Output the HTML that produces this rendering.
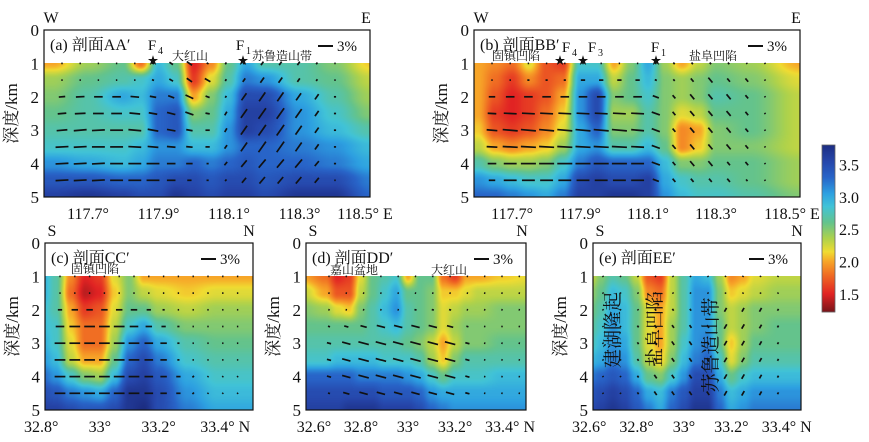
<!DOCTYPE html>
<html><head><meta charset="utf-8">
<style>
html,body{margin:0;padding:0;background:#fff;}
#wrap{position:relative;width:869px;height:442px;overflow:hidden;background:#fff;}
canvas{position:absolute;}
svg{position:absolute;left:0;top:0;}
text{font-family:"Liberation Serif","Noto Serif CJK SC",serif;fill:#111;}
</style></head>
<body>
<div id="wrap">
<svg id="svg" width="869" height="442"></svg>
</div>
<script>
// ---------- DATA ----------
const depthRows = [1,1.5,2,2.5,3,3.5,4,4.5,5];
const barDepths = [1,1.5,2,2.5,3,3.5,4,4.5];

const aCols = [117.6,117.7,117.8,117.85,117.9,117.95,118.0,118.05,118.1,118.15,118.2,118.3,118.4,118.5];
const aVel = [
[2.0,2.4,2.6,1.8,2.9,2.6,1.5,1.9,2.6,3.0,2.7,2.7,2.5,2.1],
[2.4,2.6,2.7,2.8,3.0,2.8,1.6,2.2,2.7,3.2,3.1,2.7,2.6,2.3],
[2.5,2.7,3.0,2.9,3.2,3.2,2.0,2.5,2.9,3.5,3.5,3.0,2.7,2.4],
[2.6,2.7,2.8,2.8,3.3,3.4,2.5,2.6,3.0,3.6,3.6,3.1,2.8,2.5],
[2.7,2.7,2.7,2.7,3.3,3.4,2.7,2.7,3.1,3.6,3.5,3.1,2.9,2.7],
[2.8,2.8,2.8,2.9,3.1,3.1,2.9,2.9,3.1,3.3,3.3,3.2,3.1,2.9],
[3.1,3.0,2.9,3.0,3.2,3.2,3.3,3.2,3.3,3.4,3.3,3.3,3.2,3.0],
[3.4,3.4,3.3,3.3,3.4,3.5,3.5,3.4,3.5,3.5,3.4,3.5,3.5,3.2],
[3.6,3.7,3.6,3.5,3.5,3.7,3.6,3.5,3.6,3.6,3.5,3.7,3.7,3.3]];
const aBarLen = [
[0,0,0,0,0,0.5,1,1.5,0.5,0.5,0.5,1,1,1,0.5,0],
[0,0,0.3,0.3,0.3,0.5,1,1.5,1.5,0.5,1,1.5,1.5,1,0.5,0],
[1.5,2,2,2,2,1.5,1.5,2,1,0.5,2,2.5,2.5,2,1.5,0.5],
[2,2.5,2.5,2.5,2.5,2,2,2,1,1,2.5,3,3,2.5,1.5,0.5],
[2.5,3,3,3,3,2.5,2,1.5,1,1,2.5,3,3,2.5,1.5,0.5],
[3,3,3,3,3,2.5,2,1.5,1,1,2.5,3,3,2.5,1.5,0.5],
[3,3,3,3,3,3,2,1.5,0.5,1,2,2.5,2.5,2.5,1.5,0.5],
[3,3,3,3,3,3,2,1,0.5,0.5,1.5,2,2,2,1.5,0.3]];
const aBarAng = [
[0,0,0,0,0,-30,-35,-35,-30,60,55,55,55,55,55,0],
[0,0,0,0,0,-20,-30,-35,-30,60,55,55,55,55,55,0],
[5,3,0,0,-5,-10,-20,-25,-20,60,55,55,55,55,55,0],
[5,3,0,0,-5,-10,-15,-20,-10,60,55,55,55,55,55,0],
[5,5,3,0,-5,-10,-10,-10,0,60,55,55,55,55,55,0],
[3,3,0,0,-3,-5,-5,-5,0,55,55,55,55,55,55,0],
[3,3,3,0,0,0,0,0,0,50,50,50,50,50,50,0],
[3,3,3,0,0,0,0,0,0,50,50,50,50,50,50,0]];

const bCols = [117.6,117.65,117.7,117.75,117.8,117.85,117.9,117.95,118.0,118.05,118.1,118.15,118.2,118.25,118.3,118.4,118.55];
const bVel = [
[2.0,1.9,1.8,2.2,1.7,1.6,2.8,2.8,2.0,2.5,3.0,2.4,2.0,2.3,2.5,2.4,2.0],
[2.0,1.8,1.6,1.9,1.7,1.8,3.0,3.0,2.3,2.6,2.9,2.5,2.4,2.5,2.6,2.5,2.2],
[2.0,1.7,1.5,1.6,1.7,2.0,3.1,3.5,2.5,2.6,2.8,2.5,2.4,2.5,2.7,2.6,2.3],
[2.0,1.6,1.5,1.6,1.8,2.1,3.1,3.5,2.4,2.4,2.7,2.5,2.2,2.3,2.6,2.6,2.3],
[2.1,1.7,1.6,1.7,1.9,2.2,3.0,3.3,2.5,2.5,2.7,2.5,1.9,2.0,2.5,2.6,2.3],
[2.3,2.0,1.9,2.0,2.1,2.4,3.0,3.1,2.7,2.7,2.9,2.6,1.9,2.1,2.5,2.5,2.3],
[2.7,2.5,2.4,2.4,2.5,2.8,3.2,3.4,3.3,3.3,3.3,2.9,2.5,2.5,2.6,2.6,2.4],
[3.1,3.0,2.9,2.8,2.8,3.0,3.5,3.6,3.5,3.5,3.6,3.0,2.8,2.7,2.7,2.6,2.4],
[3.3,3.3,3.2,3.1,3.0,3.2,3.6,3.6,3.7,3.7,3.6,3.1,2.9,2.8,2.8,2.7,2.5]];
const bBarLen = [
[0,0,0,0,0,0,0,0,0,0,0.5,0.5,0.5,0.5,0.3,0],
[0.3,0.3,0.5,0.5,0.5,1,1,1,1,0.5,0.5,1,1.5,1,1,0.3],
[1.5,2,2,2,2,2,2,2,2,1.5,1,1.5,1.5,1.5,1,0.3],
[2,3,3,3,3,3,3,3,3,2,1,1.5,1.5,1.5,1,0.3],
[2.5,3.5,3.5,3.5,3.5,3.5,3.5,3.5,3,2,1,1.5,1.5,1.5,1,0.3],
[2.5,3.5,3.5,3.5,3.5,3.5,3.5,3.5,3,2,1.2,1.5,1.5,1.5,1,0.3],
[2,3,3.5,3.5,3.5,3.5,3.5,3.5,3,2,1,1.5,1.5,1,1,0.3],
[1.5,3,3,3,3,3,3,3,3,1.5,1,1,1,1,0.5,0.3]];
const bBarAng = [
[0,0,0,0,0,0,0,0,0,-20,-50,-50,-50,-50,-50,-50],
[0,0,0,0,0,0,0,0,0,-20,-50,-50,-50,-50,-50,-50],
[0,0,0,0,0,0,0,0,0,-20,-50,-50,-50,-50,-50,-50],
[-3,-3,-3,-3,-3,-3,-3,-3,-3,-20,-50,-50,-50,-50,-50,-50],
[-5,-5,-5,-5,-5,-5,-5,-5,-5,-20,-50,-50,-50,-50,-50,-50],
[-3,-3,-3,-3,-3,-3,-3,-3,-3,-20,-50,-50,-50,-50,-50,-50],
[0,0,0,0,0,0,0,0,0,-20,-50,-50,-50,-50,-50,-50],
[0,0,0,0,0,0,0,0,0,-20,-50,-50,-50,-50,-50,-50]];

const cCols = [32.8,32.85,32.9,32.95,33.0,33.05,33.1,33.15,33.2,33.3,33.4,33.55];
const cVel = [
[3.0,2.7,1.9,1.5,1.6,2.2,2.5,2.0,2.0,2.0,2.0,2.0],
[3.0,2.7,1.8,1.4,1.5,2.1,2.5,2.3,2.2,2.1,2.2,2.2],
[2.9,2.7,2.0,1.6,1.7,2.2,2.6,2.6,2.4,2.3,2.4,2.4],
[2.9,2.8,2.1,1.8,1.8,2.3,2.8,3.0,2.7,2.5,2.5,2.5],
[3.0,2.8,2.2,1.8,1.8,2.4,3.1,3.3,3.0,2.7,2.6,2.6],
[3.1,2.9,2.3,2.0,2.0,2.6,3.3,3.5,3.2,2.8,2.7,2.7],
[3.3,3.1,2.8,2.5,2.4,2.9,3.5,3.6,3.4,3.0,2.8,2.8],
[3.5,3.4,3.2,3.1,3.0,3.3,3.7,3.7,3.5,3.1,2.9,2.9],
[3.6,3.6,3.5,3.4,3.4,3.5,3.7,3.8,3.5,3.2,3.0,3.0]];
const cBarLen = [
[0.3,0.3,0.3,0.3,0.3,0.3,0.3,0.3,0.3,0.3,0.3,0.3,0.3],
[0.3,0.3,0.3,0.3,0.3,0.3,0.3,0.3,0.3,0.3,0.3,0.3,0.3],
[1,1.5,1.5,1.5,1.5,1.5,1,0.5,0.3,0.3,0.3,0.3,0.3],
[2,2.5,2.5,2.5,2.5,2,1.5,1,0.5,0.3,0.3,0.3,0.3],
[2.5,2.5,2.5,2.5,2.5,2.5,2,1.5,0.5,0.3,0.3,0.3,0.3],
[2.5,2.5,2.5,2.5,2.5,2.5,2,1.5,0.5,0.3,0.3,0.3,0.3],
[2.5,2.5,2.5,2.5,2.5,2.5,2,1.5,1,0.5,0.3,0.3,0.3],
[2.5,2.5,2.5,2.5,2.5,2.5,2,1.5,1,0.5,0.3,0.3,0.3]];
const cBarAng = [
[0,0,0,0,0,0,0,0,0,0,0,0,0],[0,0,0,0,0,0,0,0,0,0,0,0,0],
[0,0,0,0,0,0,0,0,0,0,0,0,0],[0,0,0,0,0,0,0,0,0,0,0,0,0],
[0,0,0,0,0,0,0,0,0,0,0,0,0],[0,0,0,0,0,0,0,0,0,0,0,0,0],
[0,0,0,0,0,0,0,0,0,45,45,45,45],[0,0,0,0,0,0,0,0,0,45,45,45,45]];

const dCols = [32.55,32.65,32.7,32.75,32.8,32.85,32.9,32.95,33.0,33.05,33.1,33.15,33.2,33.25,33.3,33.4,33.55];
const dVel = [
[2.0,1.8,1.5,1.6,2.2,2.6,2.7,2.8,2.0,2.6,2.6,1.8,1.6,2.0,2.0,2.1,2.2],
[2.3,2.0,1.7,1.7,2.3,2.6,2.8,3.0,2.6,2.6,2.5,2.1,2.1,2.2,2.3,2.3,2.3],
[2.5,2.4,2.2,2.1,2.5,2.7,2.9,3.1,2.7,2.6,2.5,2.2,2.3,2.4,2.4,2.5,2.5],
[2.6,2.6,2.6,2.6,2.6,2.7,2.8,2.9,2.7,2.6,2.5,2.2,2.4,2.5,2.5,2.5,2.5],
[2.7,2.7,2.7,2.7,2.7,2.7,2.7,2.7,2.6,2.5,2.3,2.0,2.3,2.5,2.5,2.6,2.6],
[2.8,2.8,2.9,2.9,2.9,2.9,2.8,2.8,2.8,2.7,2.4,2.1,2.5,2.7,2.7,2.7,2.7],
[3.3,3.3,3.3,3.3,3.2,3.2,3.2,3.2,3.1,3.0,2.8,2.6,2.8,2.8,2.8,2.9,2.9],
[3.5,3.5,3.5,3.5,3.5,3.5,3.4,3.4,3.4,3.3,3.1,3.0,3.0,3.0,3.0,3.0,3.0],
[3.6,3.6,3.6,3.7,3.7,3.7,3.6,3.6,3.6,3.5,3.3,3.2,3.1,3.1,3.1,3.1,3.1]];
const dBarLen = [
[0,0,0,0,0,0.3,0.3,0.3,0.3,0.3,0.3,0.3],
[0,0,0,0.3,0.3,0.3,0.3,0.3,0.3,0.3,0.3,0.3],
[0,0.3,0.3,0.3,0.3,0.5,0.5,0.5,0.3,0.3,0.3,0.3],
[0.5,1,1.5,2,2,2,2,1.5,0.5,0.3,0.3,0.3],
[1,2,2.5,2.5,2.5,2.5,2.5,2.5,1,0.3,0.3,0.3],
[1,2,2.5,2.5,2.5,2.5,2.5,2.5,1,0.3,0.3,0.3],
[1,2,2.5,2.5,2.5,2.5,2.5,2.5,1,0.3,0.3,0.3],
[0.5,1.5,2,2,2,2,2,2,1,0.3,0.3,0.3]];
const dBarAng = [
[-15,-15,-15,-15,-15,-15,-15,-15,-15,-15,-15,-15],[-15,-15,-15,-15,-15,-15,-15,-15,-15,-15,-15,-15],
[-15,-15,-15,-15,-15,-15,-15,-15,-15,-15,-15,-15],[-15,-15,-15,-15,-15,-15,-15,-15,-15,-15,-15,-15],
[-15,-15,-15,-15,-15,-15,-15,-15,-15,-15,-15,-15],[-15,-15,-15,-15,-15,-15,-15,-15,-15,-15,-15,-15],
[-15,-15,-15,-15,-15,-15,-15,-15,-15,-15,-15,-15],[-15,-15,-15,-15,-15,-15,-15,-15,-15,-15,-15,-15]];

const eCols = [32.6,32.65,32.7,32.75,32.8,32.85,32.9,32.95,33.0,33.05,33.1,33.15,33.2,33.25,33.3,33.4,33.5];
const eVel = [
[2.2,2.5,2.7,2.6,2.3,1.7,1.6,2.3,2.7,3.0,2.9,2.4,1.9,2.0,2.2,2.3,2.3],
[2.4,2.6,2.9,2.8,2.5,1.9,1.8,2.3,2.7,3.1,3.1,2.5,2.1,2.2,2.3,2.4,2.4],
[2.5,2.7,3.0,2.9,2.6,2.2,2.0,2.3,2.7,3.1,3.1,2.5,2.3,2.4,2.5,2.5,2.5],
[2.6,2.8,3.1,2.9,2.6,2.2,2.0,2.4,2.7,3.1,3.1,2.6,2.3,2.4,2.5,2.6,2.6],
[2.7,2.9,3.1,3.0,2.6,2.2,2.0,2.4,2.8,3.1,3.2,2.6,2.1,2.4,2.6,2.6,2.6],
[2.9,3.0,3.2,3.1,2.7,2.3,2.1,2.5,2.9,3.2,3.3,2.8,2.2,2.5,2.7,2.7,2.7],
[3.2,3.3,3.4,3.3,3.0,2.6,2.5,2.8,3.1,3.5,3.5,3.0,2.6,2.8,2.9,2.9,2.9],
[3.4,3.5,3.6,3.5,3.3,3.0,2.9,3.2,3.4,3.6,3.6,3.2,2.9,3.0,3.1,3.1,3.1],
[3.5,3.6,3.7,3.6,3.4,3.2,3.0,3.3,3.5,3.7,3.7,3.3,3.0,3.1,3.2,3.2,3.2]];
const eBarLen = [
[0.3,0.3,0.3,0.3,0.3,0.3,0.3,0.3,0.3,0.3,0.3],
[0.3,0.3,0.3,0.3,0.3,0.3,0.3,0.3,0.3,0.3,0.3],
[0.3,0.3,0.3,0.5,0.5,0.5,0.5,1,1,1,0.5],
[0.3,0.3,0.5,0.8,0.8,0.8,0.8,1.2,1.2,1,0.5],
[0.3,0.3,0.5,1,1,1,0.8,1.2,1.2,1,0.5],
[0.3,0.3,0.5,1,1,1,1,1.2,1.2,1,0.5],
[0.3,0.3,0.5,1,1,1,1,1.2,1.2,1,0.5],
[0.3,0.3,0.5,1,1,1,1,1.2,1.2,1,0.5]];
const eBarAng = [
[-55,-55,-55,-55,-55,-55,-55,60,60,60,60],[-55,-55,-55,-55,-55,-55,-55,60,60,60,60],
[-55,-55,-55,-55,-55,-55,-55,60,60,60,60],[-55,-55,-55,-55,-55,-55,-55,60,60,60,60],
[-55,-55,-55,-55,-55,-55,-55,60,60,60,60],[-55,-55,-55,-55,-55,-55,-55,60,60,60,60],
[-55,-55,-55,-55,-55,-55,-55,60,60,60,60],[-55,-55,-55,-55,-55,-55,-55,60,60,60,60]];

const lonTicks = [117.7,117.9,118.1,118.3,118.5];
const lonTickLabels = ['117.7°','117.9°','118.1°','118.3°','118.5° E'];
const cTicks = [32.8,33.0,33.2,33.4];
const cTickLabels = ['32.8°','33°','33.2°','33.4° N'];
const deTicks = [32.6,32.8,33.0,33.2,33.4];
const deTickLabels = ['32.6°','32.8°','33°','33.2°','33.4° N'];
const depthTicks = [0,1,2,3,4,5];
const cbarTicks = [3.5,3.0,2.5,2.0,1.5];

// ---------- COLOR ----------
const cmStops = [[1.22,[120,20,25]],[1.5,[225,35,35]],[1.8,[240,110,35]],[2.0,[247,165,40]],[2.15,[240,220,50]],[2.35,[175,210,75]],[2.6,[100,195,140]],[2.85,[65,195,215]],[3.05,[45,160,225]],[3.3,[40,100,200]],[3.55,[38,70,170]],[3.8,[28,45,130]]];
function cmap(v){
  if(v<=cmStops[0][0]) return cmStops[0][1];
  for(let i=0;i<cmStops.length-1;i++){
    const a=cmStops[i],b=cmStops[i+1];
    if(v<=b[0]){const t=(v-a[0])/(b[0]-a[0]);return a[1].map((c,k)=>c+(b[1][k]-c)*t);}
  }
  return cmStops[cmStops.length-1][1];
}

const NS='http://www.w3.org/2000/svg';
const svg=document.getElementById('svg');
const wrap=document.getElementById('wrap');
function el(tag,attrs,parent){const e=document.createElementNS(NS,tag);for(const k in attrs)e.setAttribute(k,attrs[k]);(parent||svg).appendChild(e);return e;}
function txt(x,y,s,size,anchor,name,extra){
  const t=el('text',Object.assign({x:x,y:y,'font-size':size,'text-anchor':anchor||'start'},extra||{}));
  t.textContent=s;
  
  
  return t;
}

function panel(p){
  const xs=v=>p.left+(v-p.xmin)/(p.xmax-p.xmin)*(p.right-p.left);
  const ys=d=>p.y0+d/5*(p.y5-p.y0);
  const g=el('g',{});
  
  
  const top=Math.round(ys(1)), bot=Math.round(ys(5)), W=p.right-p.left, H=bot-top;
  const cv=document.createElement('canvas');
  cv.width=W;cv.height=H;cv.style.left=p.left+'px';cv.style.top=top+'px';
  
  
  wrap.insertBefore(cv,svg);
  const ctx=cv.getContext('2d');const img=ctx.createImageData(W,H);
  const cols=p.cols,vel=p.vel;
  for(let j=0;j<H;j++){
    const d=1+(j+0.5)/H*4;
    let r=Math.min(7,Math.max(0,Math.floor((d-1)/0.5)));let tr=Math.min(1,Math.max(0,(d-depthRows[r])/0.5));
    for(let i=0;i<W;i++){
      const lon=p.xmin+(i+0.5)/W*(p.xmax-p.xmin);
      let c=0;while(c<cols.length-2&&lon>cols[c+1])c++;
      let tc=Math.min(1,Math.max(0,(lon-cols[c])/(cols[c+1]-cols[c])));
      tc=tc*tc*(3-2*tc);const trs=tr*tr*(3-2*tr);
      const v=(vel[r][c]*(1-tc)+vel[r][c+1]*tc)*(1-trs)+(vel[r+1][c]*(1-tc)+vel[r+1][c+1]*tc)*trs;
      const col=cmap(v);const k=(j*W+i)*4;
      img.data[k]=col[0];img.data[k+1]=col[1];img.data[k+2]=col[2];img.data[k+3]=255;
    }
  }
  ctx.putImageData(img,0,0);
  const bg=el('g',{},g);
  
  
  for(let r=0;r<barDepths.length;r++){
    for(let c=0;c<p.barLen[r].length;c++){
      const cx=p.barX0+c*p.barDx, cy=ys(barDepths[r]);
      const L=Math.max(p.barLen[r][c]*p.pxPer,1.4)/2, a=p.barAng[r][c]*Math.PI/180;
      const dx=L*Math.cos(a), dy=-L*Math.sin(a);
      const ln=el('line',{x1:cx-dx,y1:cy-dy,x2:cx+dx,y2:cy+dy,stroke:'#111','stroke-width':1.7,'stroke-linecap':'butt'},bg);
      
      
    }
  }
  const fr=el('rect',{x:p.left,y:p.y0,width:p.right-p.left,height:p.y5-p.y0,fill:'none',stroke:'#111','stroke-width':1.2},g);
  
  
  depthTicks.forEach(d=>{txt(p.left-5,ys(d)+6,String(d),17,'end','y-tick-label');});
  p.ticks.forEach((v,i)=>{txt(xs(v)+ (i===p.ticks.length-1?p.lastShift:0),p.tickY,p.tickLabels[i],16,'middle','x-tick-label');});
  txt(0,0,'深度/km',17,'middle','y-axis-title',{transform:'translate('+(p.left-27)+','+((p.y0+p.y5)/2)+') rotate(-90)'});
  txt(p.left+7,p.y0-7,p.dirL,16,'middle','direction-left');
  txt(p.right-4,p.y0-7,p.dirR,16,'middle','direction-right');
  txt(p.left+6,p.y0+20,p.title,16,'start','panel-title');
  const sl=el('line',{x1:p.right-52,y1:p.y0+16,x2:p.right-37,y2:p.y0+16,stroke:'#111','stroke-width':2},g);
  
  
  txt(p.right-33,p.y0+21,'3%',15,'start','scale-bar-label');
}

panel({id:'a',left:44,right:370,y0:30,y5:197,xmin:117.575,xmax:118.5,cols:aCols,vel:aVel,barLen:aBarLen,barAng:aBarAng,barX0:62,barDx:18.2,pxPer:4.3,ticks:lonTicks,tickLabels:lonTickLabels,tickY:219,lastShift:-5,dirL:'W',dirR:'E',title:'(a) 剖面AA′'});
panel({id:'b',left:474,right:800,y0:30,y5:197,xmin:117.588,xmax:118.547,cols:bCols,vel:bVel,barLen:bBarLen,barAng:bBarAng,barX0:492,barDx:18.2,pxPer:4.3,ticks:lonTicks,tickLabels:lonTickLabels,tickY:219,lastShift:8,dirL:'W',dirR:'E',title:'(b) 剖面BB′'});
panel({id:'c',left:45,right:253,y0:243,y5:410,xmin:32.813,xmax:33.522,cols:cCols,vel:cVel,barLen:cBarLen,barAng:cBarAng,barX0:60,barDx:14.8,pxPer:4.3,ticks:cTicks,tickLabels:cTickLabels,tickY:432,lastShift:8,dirL:'S',dirR:'N',title:'(c) 剖面CC′'});
panel({id:'d',left:306,right:526,y0:243,y5:410,xmin:32.566,xmax:33.502,cols:dCols,vel:dVel,barLen:dBarLen,barAng:dBarAng,barX0:329,barDx:17.3,pxPer:4.3,ticks:deTicks,tickLabels:deTickLabels,tickY:432,lastShift:8,dirL:'S',dirR:'N',title:'(d) 剖面DD′'});
panel({id:'e',left:593,right:801,y0:243,y5:410,xmin:32.616,xmax:33.494,cols:eCols,vel:eVel,barLen:eBarLen,barAng:eBarAng,barX0:603,barDx:17.5,pxPer:4.3,ticks:deTicks,tickLabels:deTickLabels,tickY:432,lastShift:8,dirL:'S',dirR:'N',title:'(e) 剖面EE′'});

function star(x,y){txt(x,y,'★',11,'middle','fault-star');}
star(153,64);star(243,64);
txt(152,50,'F',15,'middle','fault-label-f4');txt(158,54,'4',10,'start','fault-subscript');
txt(240,50,'F',15,'middle','fault-label-f1');txt(246,54,'1',10,'start','fault-subscript');
txt(190,60,'大红山',12,'middle','place-label');
txt(282,60,'苏鲁造山带',12,'middle','place-label');
star(560,64);star(583,64);star(656,64);
txt(566,52,'F',15,'middle','fault-label-f4');txt(572,56,'4',10,'start','fault-subscript');
txt(592,52,'F',15,'middle','fault-label-f3');txt(598,56,'3',10,'start','fault-subscript');
txt(655,52,'F',15,'middle','fault-label-f1');txt(661,56,'1',10,'start','fault-subscript');
txt(516,60,'固镇凹陷',12,'middle','place-label');
txt(713,60,'盐阜凹陷',12,'middle','place-label');
txt(95,273,'固镇凹陷',12,'middle','place-label');
txt(354,274,'嘉山盆地',12,'middle','place-label');
txt(449,274,'大红山',12,'middle','place-label');
[['建湖隆起',619,330],['盐阜凹陷',661,329],['苏鲁造山带',717,345]].forEach(v=>{
  txt(0,0,v[0],19,'middle','vertical-place-label',{transform:'translate('+v[1]+','+v[2]+') rotate(-90)'});
});

const cbX=822,cbW=13,cbTop=145,cbBot=312,cbMin=1.22,cbMax=3.8;
const cbg=el('g',{});


for(let y=cbTop;y<cbBot;y++){
  const v=cbMax-(y-cbTop+0.5)/(cbBot-cbTop)*(cbMax-cbMin);const c=cmap(v);
  el('rect',{x:cbX,y:y,width:cbW,height:1.2,fill:'rgb('+c.map(Math.round).join(',')+')'},cbg);
}
const cbf=el('rect',{x:cbX,y:cbTop,width:cbW,height:cbBot-cbTop,fill:'none',stroke:'#666','stroke-width':0.8},cbg);


cbarTicks.forEach(v=>{
  const y=cbTop+(cbMax-v)/(cbMax-cbMin)*(cbBot-cbTop);
  txt(839,y+6,v.toFixed(1),16,'start','colorbar-tick-label');
});
</script>
</body></html>
